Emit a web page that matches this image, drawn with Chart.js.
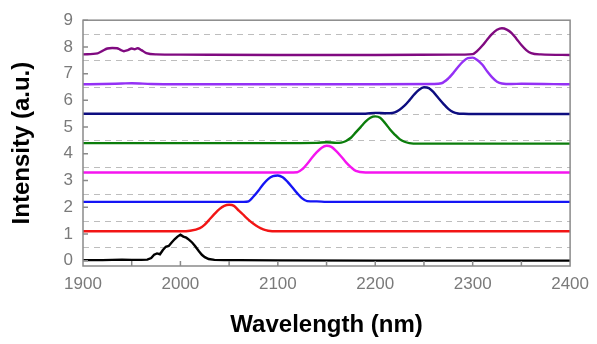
<!DOCTYPE html>
<html>
<head>
<meta charset="utf-8">
<script src="https://cdn.jsdelivr.net/npm/chart.js@4"></script>
<style>
  body { margin: 0; background: #fff; }
</style>
</head>
<body>
<canvas id="chart" width="597" height="344"></canvas>
<script>
// axis ticks
const xTicks = [1900, 2000, 2100, 2200, 2300, 2400];
const yTicks = [0, 1, 2, 3, 4, 5, 6, 7, 8, 9];
const halfLines = [0.5, 1.5, 2.5, 3.5, 4.5, 5.5, 6.5, 7.5, 8.5];

// spectra, each stacked with its own offset (wavelength in nm, intensity in a.u.)
const wl2000 = [1900, 1920, 1940, 1950, 1960, 1966, 1970, 1973, 1976, 1979, 1982, 1985, 1988, 1991, 1994, 1997, 2000, 2003, 2006, 2009, 2012, 2015, 2019, 2022, 2025, 2029, 2035, 2045, 2060, 2100, 2200, 2300, 2400];
const int2000 = [0.02, 0.02, 0.04, 0.03, 0.03, 0.04, 0.10, 0.22, 0.27, 0.24, 0.40, 0.52, 0.55, 0.68, 0.80, 0.90, 0.97, 0.90, 0.86, 0.78, 0.68, 0.55, 0.35, 0.22, 0.13, 0.06, 0.03, 0.02, 0.02, 0.01, 0.00, 0.00, 0.00];

const wl2050 = [1900, 2000, 2010, 2020, 2025, 2030, 2035, 2040, 2045, 2050, 2055, 2060, 2065, 2070, 2075, 2080, 2085, 2090, 2100, 2200, 2300, 2400];
const int2050 = [1.10, 1.10, 1.12, 1.22, 1.35, 1.55, 1.75, 1.93, 2.05, 2.09, 2.05, 1.87, 1.70, 1.53, 1.38, 1.26, 1.17, 1.12, 1.10, 1.10, 1.10, 1.10];

const wl2100 = [1900, 2060, 2065, 2070, 2075, 2080, 2085, 2090, 2095, 2100, 2105, 2110, 2115, 2120, 2125, 2130, 2140, 2150, 2200, 2300, 2400];
const int2100 = [2.20, 2.20, 2.20, 2.22, 2.40, 2.62, 2.86, 3.05, 3.16, 3.19, 3.12, 2.95, 2.74, 2.52, 2.33, 2.23, 2.22, 2.20, 2.20, 2.20, 2.20];

const wl2150 = [1900, 2110, 2120, 2125, 2130, 2135, 2140, 2145, 2150, 2155, 2160, 2165, 2170, 2175, 2180, 2190, 2200, 2300, 2400];
const int2150 = [3.30, 3.30, 3.31, 3.42, 3.62, 3.85, 4.06, 4.23, 4.30, 4.26, 4.10, 3.90, 3.68, 3.50, 3.36, 3.30, 3.30, 3.30, 3.30];

const wl2200 = [1900, 2100, 2140, 2150, 2160, 2165, 2170, 2175, 2180, 2185, 2190, 2195, 2200, 2205, 2210, 2215, 2220, 2225, 2230, 2235, 2245, 2300, 2400];
const int2200 = [4.40, 4.40, 4.41, 4.43, 4.41, 4.42, 4.48, 4.60, 4.80, 5.00, 5.20, 5.35, 5.40, 5.35, 5.15, 4.92, 4.72, 4.55, 4.45, 4.40, 4.38, 4.38, 4.38];

const wl2250 = [1900, 2190, 2200, 2210, 2215, 2220, 2225, 2230, 2235, 2240, 2245, 2250, 2255, 2260, 2265, 2270, 2275, 2280, 2285, 2290, 2300, 2400];
const int2250 = [5.50, 5.50, 5.53, 5.52, 5.52, 5.55, 5.65, 5.80, 6.00, 6.22, 6.40, 6.49, 6.46, 6.30, 6.08, 5.87, 5.68, 5.56, 5.51, 5.50, 5.49, 5.49];

const wl2300 = [1900, 1920, 1940, 1950, 1970, 2000, 2100, 2200, 2260, 2268, 2275, 2280, 2285, 2290, 2295, 2300, 2305, 2310, 2315, 2320, 2325, 2330, 2340, 2350, 2400];
const int2300 = [6.60, 6.61, 6.63, 6.64, 6.61, 6.60, 6.60, 6.60, 6.61, 6.64, 6.82, 7.02, 7.25, 7.45, 7.58, 7.60, 7.50, 7.33, 7.08, 6.86, 6.70, 6.63, 6.61, 6.62, 6.60];

const wl2330 = [1900, 1915, 1920, 1925, 1930, 1935, 1938, 1942, 1946, 1950, 1953, 1956, 1960, 1965, 1975, 2000, 2100, 2200, 2280, 2300, 2305, 2310, 2315, 2320, 2325, 2330, 2335, 2340, 2345, 2350, 2355, 2360, 2370, 2400];
const int2330 = [7.72, 7.76, 7.85, 7.94, 7.96, 7.95, 7.90, 7.84, 7.88, 7.94, 7.91, 7.95, 7.88, 7.77, 7.72, 7.71, 7.70, 7.70, 7.71, 7.73, 7.86, 8.05, 8.28, 8.49, 8.64, 8.70, 8.65, 8.52, 8.30, 8.07, 7.88, 7.77, 7.72, 7.70];

const series = [
    [wl2000, int2000, "#000000", 0],
    [wl2050, int2050, "#f21515", 0.4],
    [wl2100, int2100, "#1515f5", 0.4],
    [wl2150, int2150, "#f515f0", 0.4],
    [wl2200, int2200, "#0b7d0b", 0.4],
    [wl2250, int2250, "#0d0d80", 0.4],
    [wl2300, int2300, "#9430f5", 0.4],
    [wl2330, int2330, "#800a80", 0.4],
];

const FONT = "'Liberation Sans', Arial, sans-serif";
const FRAME = "#8a8a8a";

// dashed half-lines, frame and inward tick marks
const framePlugin = {
    id: "frame",
    beforeDatasetsDraw(chart) {
        const {ctx, chartArea: a, scales: {x, y}} = chart;
        ctx.save();
        ctx.strokeStyle = "#bdbdbd";
        ctx.lineWidth = 1;
        ctx.setLineDash([6, 5]);
        halfLines.forEach(v => {
            const py = Math.round(y.getPixelForValue(v)) + 0.5;
            ctx.beginPath();
            ctx.moveTo(a.left, py);
            ctx.lineTo(a.right, py);
            ctx.stroke();
        });
        ctx.restore();
    },
    afterDatasetsDraw(chart) {
        const {ctx, chartArea: a, scales: {x, y}} = chart;
        ctx.save();
        ctx.strokeStyle = FRAME;
        ctx.lineWidth = 1.5;
        ctx.strokeRect(a.left, a.top, a.right - a.left, a.bottom - a.top);
        ctx.beginPath();
        yTicks.forEach(v => {
            const py = y.getPixelForValue(v);
            ctx.moveTo(a.left, py);
            ctx.lineTo(a.left + 5, py);
        });
        for (let v = 1950; v < 2400; v += 50) {
            const px = x.getPixelForValue(v);
            ctx.moveTo(px, a.bottom);
            ctx.lineTo(px, a.bottom - 5);
        }
        ctx.stroke();
        ctx.restore();
    }
};

new Chart("chart", {
    type: "line",
    data: {
        datasets: series.map(([xs, ys, color, t]) => ({
            data: xs.map((v, i) => ({x: v, y: ys[i]})),
            borderColor: color,
            borderWidth: 2.4,
            pointRadius: 0,
            tension: t,
            cubicInterpolationMode: t ? "monotone" : "default",
            fill: false
        }))
    },
    options: {
        responsive: false,
        animation: false,
        layout: {padding: {top: 14, right: 22, left: 0, bottom: 0}},
        plugins: {legend: {display: false}, tooltip: {enabled: false}},
        scales: {
            x: {
                type: "linear",
                min: 1900,
                max: 2400,
                afterBuildTicks: s => { s.ticks = xTicks.map(v => ({value: v})); },
                afterFit: s => { s.height = 78; },
                grid: {display: false, drawTicks: false},
                border: {display: false},
                ticks: {color: "#7a7a7a", font: {family: FONT, size: 17}, padding: 8, maxRotation: 0,
                        callback: v => String(v)},
                title: {display: true, text: "Wavelength (nm)", color: "#000",
                        font: {family: FONT, size: 24, weight: "bold"}, padding: {top: 0, bottom: 4}}
            },
            y: {
                min: -0.2,
                max: 9,
                afterBuildTicks: s => { s.ticks = yTicks.map(v => ({value: v})); },
                afterFit: s => { s.width = 83; },
                grid: {display: false, drawTicks: false},
                border: {display: false},
                ticks: {color: "#7a7a7a", font: {family: FONT, size: 17}, padding: 10,
                        callback: v => String(v)},
                title: {display: true, text: "Intensity (a.u.)", color: "#000",
                        font: {family: FONT, size: 24, weight: "bold"}, padding: {top: 8, bottom: 0}}
            }
        }
    },
    plugins: [framePlugin]
});
</script>
</body>
</html>
